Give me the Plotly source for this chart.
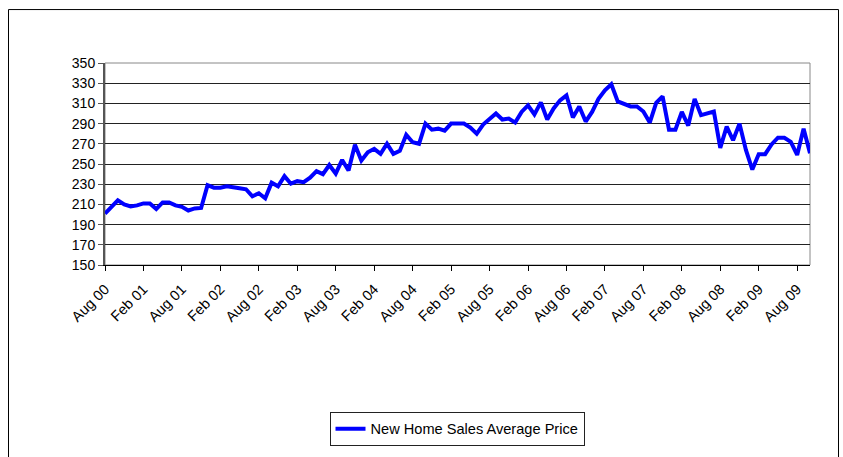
import plotly.graph_objects as go

series_name = "New Home Sales Average Price"

month_index = list(range(111))  # Aug 2000 .. Oct 2009, monthly

avg_price = [
    201, 207, 214, 210, 208, 209, 211, 211, 205.5, 212,
    212, 209, 207.6, 204, 206, 206.5, 229, 226.5, 226.5, 228,
    227.5, 226, 225, 218, 221, 216, 231.5, 228, 238, 230.5,
    233, 232, 236.5, 243, 240, 249, 240.5, 254, 243.5, 269,
    253.5, 261.6, 265, 260, 270, 260, 263, 279, 271.6, 270,
    290, 284, 285, 283, 290, 290, 290, 286, 280, 289,
    294.5, 300, 294, 295, 291, 301.6, 308, 299, 311, 294,
    305, 313, 318, 296, 307, 292, 301.6, 314.5, 323, 329,
    312, 309.7, 307, 307, 302, 291, 310.6, 317, 284, 284,
    301.6, 288, 314.5, 298.4, 300, 302, 266, 287, 273.5, 290,
    264, 244.5, 259.7, 259.7, 269.4, 276, 276, 272, 259, 285,
    260.6,
]

tick_positions = [0, 6, 12, 18, 24, 30, 36, 42, 48, 54, 60, 66, 72, 78, 84, 90, 96, 102, 108]
tick_labels = [
    "Aug 00", "Feb 01", "Aug 01", "Feb 02", "Aug 02", "Feb 03", "Aug 03",
    "Feb 04", "Aug 04", "Feb 05", "Aug 05", "Feb 06", "Aug 06", "Feb 07",
    "Aug 07", "Feb 08", "Aug 08", "Feb 09", "Aug 09",
]

y_ticks = list(range(150, 351, 20))

FONT = "Liberation Sans, Arial, sans-serif"

fig = go.Figure()
fig.add_trace(go.Scatter(
    x=month_index, y=avg_price, mode="lines", name=series_name,
    line=dict(color="#0000FF", width=4),
))

L, R, T, B = 105, 33, 63, 188
W, H = 843, 457
pw, ph = W - L - R, H - T - B

def px_x(x):
    return (x - L) / pw

def px_y(y):
    return (H - B - y) / ph

fig.update_layout(
    width=W, height=H,
    margin=dict(l=L, r=R, t=T, b=B, pad=0),
    paper_bgcolor="white", plot_bgcolor="white",
    font=dict(family=FONT, size=13, color="black"),
    showlegend=True,
    legend=dict(
        orientation="h", x=px_x(457), xanchor="center",
        y=px_y(436), yanchor="middle",
        bordercolor="#222", borderwidth=1, bgcolor="white",
        font=dict(family=FONT, size=14.6, color="black"),
        itemwidth=30,
    ),
    xaxis=dict(
        range=[0, 110], tickmode="array", tickvals=tick_positions, ticktext=tick_labels,
        tickangle=-45, showgrid=False, zeroline=False,
        showline=True, linecolor="black", linewidth=1,
        ticks="outside", ticklen=5, tickcolor="black",
        ticklabelstandoff=4,
        tickfont=dict(family=FONT, size=14.5, color="black"),
    ),
    yaxis=dict(
        range=[150, 350], tickmode="array", tickvals=y_ticks,
        showgrid=True, gridcolor="#222", gridwidth=1, zeroline=False,
        showline=True, linecolor="#555", linewidth=2,
        ticks="outside", ticklen=5, tickcolor="#555",
        tickfont=dict(family=FONT, size=14, color="black"),
    ),
    shapes=[
        dict(type="rect", xref="paper", yref="paper",
             x0=0, x1=1, y0=0, y1=1, line=dict(color="#888", width=1), layer="below"),
        dict(type="rect", xref="paper", yref="paper",
             x0=px_x(8.5), x1=px_x(838.5), y0=px_y(8.5), y1=px_y(470),
             line=dict(color="black", width=1)),
    ],
)

fig.write_html(
    "out.html",
    config={"displayModeBar": False},
    post_script="document.body.style.margin='0px';document.body.style.overflow='hidden';",
)
